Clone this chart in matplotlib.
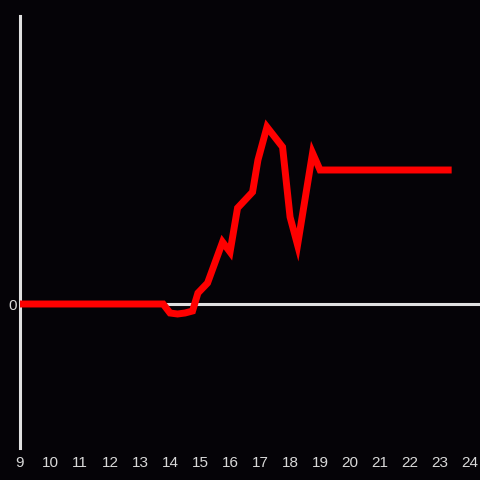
import matplotlib
matplotlib.use("Agg")
import matplotlib.pyplot as plt

# hours of day and value (arbitrary units, 0 = baseline)
hours = [9.0, 13.77, 14.0, 14.25, 14.5, 14.75, 14.93, 15.25, 15.75, 16.0,
         16.25, 16.75, 16.93, 17.23, 17.75, 18.0, 18.25, 18.75, 19.0, 23.27]
values = [0, 0, -9, -10, -9, -7, 11, 21, 62, 52,
          96, 112, 144, 177, 157, 87, 59, 151, 134, 134]
tick_hours = list(range(9, 25))

bg = '#050307'
axis_col = '#e0e0e0'

fig = plt.figure(figsize=(4.8, 4.8), dpi=100, facecolor=bg)
ax = fig.add_axes([20 / 480, 32 / 480, 460 / 480, 432 / 480])
ax.set_facecolor(bg)

ax.axhline(0, color=axis_col, lw=2.2, zorder=1)
ax.plot(hours, values, color='#ff0000', lw=5.0, solid_joinstyle='miter', zorder=3)

ax.set_xlim(9, 24.33)
ax.set_ylim(-144, 288)

for s in ['top', 'right', 'bottom']:
    ax.spines[s].set_visible(False)
ax.spines['left'].set_color(axis_col)
ax.spines['left'].set_linewidth(2.2)

ax.set_xticks(tick_hours)
ax.set_xticklabels([str(h) for h in tick_hours])
ax.set_yticks([0])
ax.set_yticklabels(['0'])
ax.tick_params(length=0, colors='#d8d8d8', labelsize=11, pad=6)
for lbl in ax.get_xticklabels() + ax.get_yticklabels():
    lbl.set_family('Liberation Sans')
ax.tick_params(axis='y', pad=2)

fig.savefig('out.png', dpi=100, facecolor=bg)
